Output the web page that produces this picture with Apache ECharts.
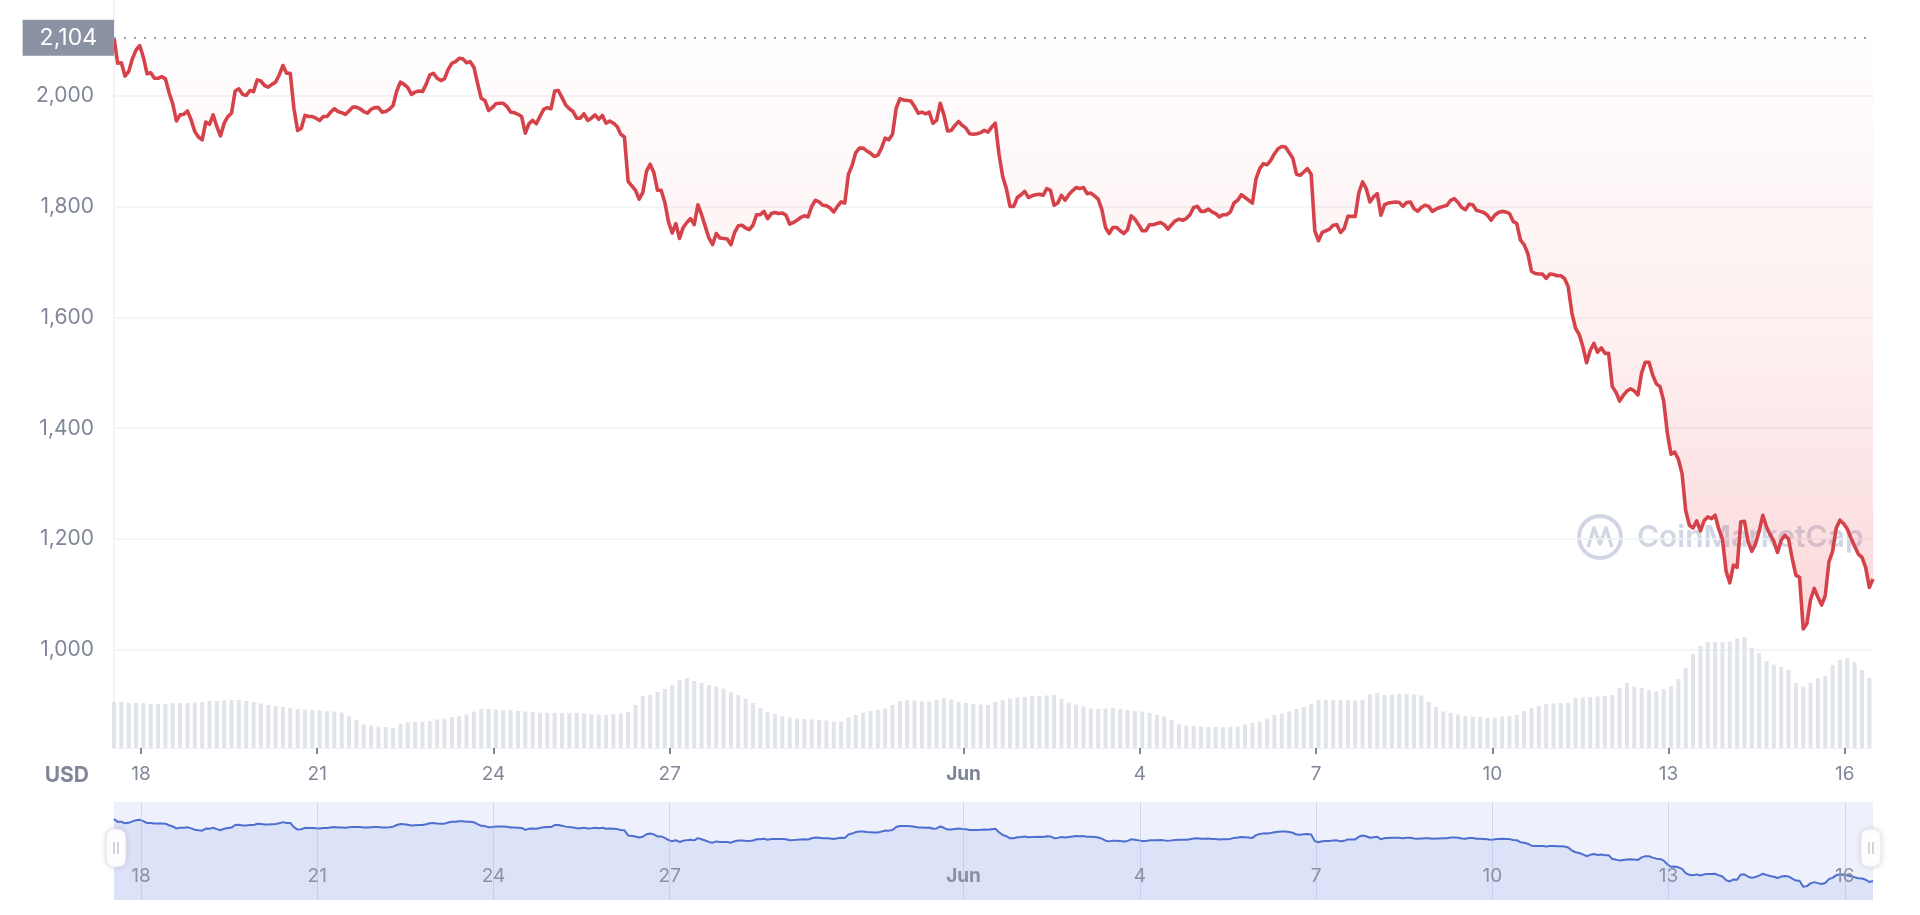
<!DOCTYPE html>
<html><head><meta charset="utf-8">
<script src="https://cdn.jsdelivr.net/npm/echarts@6/dist/echarts.min.js"></script>
<style>html,body{margin:0;padding:0;background:#fff}#chart{width:1920px;height:915px}</style>
</head><body><div id="chart"></div>
<script>
// ---- data (ETH price, USD) ----
const startTime = [2022, 4, 17, 13];   // 17 May 2022 13:00
const priceStepHours = 1.5;
const volumeStepHours = 3;
const price = [
  2104, 2058, 2059, 2035, 2043, 2066, 2082, 2090, 2069, 2039,
  2041, 2031, 2031, 2034, 2030, 2005, 1985, 1954, 1965, 1966,
  1972, 1956, 1935, 1925, 1920, 1952, 1948, 1965, 1944, 1927,
  1950, 1962, 1968, 2008, 2012, 2002, 2000, 2009, 2007, 2028,
  2026, 2018, 2015, 2020, 2024, 2037, 2054, 2040, 2040, 1976,
  1937, 1941, 1964, 1962, 1962, 1959, 1955, 1962, 1962, 1970,
  1976, 1971, 1969, 1966, 1972, 1979, 1979, 1976, 1971, 1968,
  1975, 1978, 1978, 1970, 1971, 1975, 1982, 2008, 2024, 2020,
  2014, 2002, 2006, 2008, 2007, 2020, 2037, 2040, 2031, 2027,
  2030, 2047, 2058, 2061, 2067, 2066, 2059, 2061, 2051, 2022,
  1995, 1991, 1973, 1978, 1985, 1986, 1986, 1980, 1970, 1969,
  1966, 1962, 1932, 1949, 1955, 1949, 1962, 1975, 1978, 1976,
  2008, 2009, 1996, 1983, 1976, 1971, 1959, 1959, 1967, 1955,
  1959, 1965, 1957, 1964, 1950, 1954, 1950, 1944, 1930, 1925,
  1845, 1837, 1829, 1813, 1825, 1863, 1876, 1861, 1829, 1829,
  1807, 1772, 1752, 1769, 1742, 1762, 1771, 1778, 1767, 1803,
  1785, 1764, 1743, 1731, 1751, 1743, 1742, 1741, 1731, 1753,
  1765, 1766, 1761, 1758, 1766, 1785, 1785, 1791, 1778, 1787,
  1789, 1787, 1788, 1784, 1768, 1771, 1775, 1780, 1783, 1781,
  1800, 1811, 1808, 1802, 1801, 1797, 1790, 1800, 1808, 1806,
  1858, 1874, 1897, 1905, 1905, 1900, 1896, 1890, 1892, 1905,
  1923, 1920, 1930, 1977, 1994, 1992, 1991, 1990, 1980, 1968,
  1970, 1967, 1970, 1950, 1955, 1986, 1965, 1936, 1937, 1946,
  1953, 1946, 1941, 1931, 1930, 1931, 1933, 1937, 1934, 1943,
  1950, 1894, 1854, 1832, 1800, 1800, 1816, 1821, 1827, 1816,
  1819, 1821, 1822, 1820, 1832, 1829, 1802, 1806, 1820, 1811,
  1821, 1828, 1834, 1832, 1834, 1823, 1824, 1819, 1813, 1794,
  1762, 1751, 1762, 1762, 1756, 1751, 1758, 1783, 1777, 1767,
  1756, 1756, 1767, 1767, 1769, 1771, 1767, 1759, 1767, 1774,
  1777, 1775, 1778, 1785, 1798, 1800, 1791, 1791, 1795, 1790,
  1787, 1781, 1785, 1785, 1790, 1806, 1811, 1821, 1816, 1811,
  1806, 1850, 1868, 1877, 1875, 1883, 1895, 1904, 1908, 1907,
  1897, 1887, 1858, 1856, 1862, 1868, 1858, 1756, 1738, 1753,
  1756, 1759, 1766, 1767, 1753, 1760, 1782, 1782, 1782, 1825,
  1844, 1832, 1808, 1817, 1823, 1784, 1803, 1806, 1807, 1808,
  1807, 1800, 1807, 1808, 1796, 1791, 1798, 1802, 1800, 1791,
  1795, 1798, 1800, 1802, 1811, 1814, 1807, 1798, 1794, 1804,
  1803, 1793, 1791, 1789, 1784, 1775, 1784, 1789, 1791, 1790,
  1787, 1773, 1769, 1739, 1731, 1715, 1683, 1679, 1678, 1678,
  1670, 1678, 1677, 1675, 1675, 1670, 1655, 1608, 1580, 1569,
  1547, 1518, 1540, 1553, 1537, 1545, 1535, 1535, 1475, 1465,
  1449, 1459, 1467, 1471, 1467, 1460, 1500, 1519, 1519, 1496,
  1480, 1475, 1449, 1391, 1353, 1357, 1344, 1318, 1251, 1225,
  1220, 1233, 1215, 1233, 1240, 1237, 1243, 1218, 1200, 1142,
  1121, 1153, 1149, 1231, 1232, 1195, 1178, 1191, 1214, 1243,
  1222, 1208, 1196, 1176, 1198, 1207, 1200, 1165, 1135, 1131,
  1038, 1048, 1091, 1111, 1095, 1081, 1098, 1159, 1178, 1220,
  1234, 1228, 1218, 1202, 1187, 1173, 1167, 1149, 1113, 1128
];
// relative trading volume (bar heights)
const volume = [
  46, 46, 45, 45, 45, 44, 44, 44, 45, 45,
  45, 45.5, 46, 47, 47, 47.5, 48, 48, 47, 46,
  44.5, 43, 42, 41, 40, 39, 38.5, 38, 37.5, 37,
  36.5, 35.5, 32, 28, 23.5, 22.5, 21.5, 21, 20, 24,
  25.5, 26, 26.5, 27, 28.5, 29.5, 31, 32, 33.5, 36.5,
  39, 39, 38.5, 38, 38, 37, 36.5, 36, 35.5, 35,
  35, 35, 35, 35, 34.5, 34, 33.5, 33, 34, 34.5,
  36, 43, 52, 53, 56, 59, 63, 68, 70, 67,
  65, 63, 61.5, 59.5, 56, 53, 49.5, 45, 40, 36,
  34, 32, 30.5, 29.5, 29, 28.5, 28, 27.5, 26.5, 26.5,
  30.5, 33, 35.5, 37, 38, 39.5, 43, 47, 48, 47.5,
  46.5, 46.5, 48, 49.5, 48.5, 46, 45, 44, 43.5, 43,
  46, 48, 49.5, 50.5, 51, 52, 52, 52.5, 53, 49,
  45.5, 43.5, 41.5, 39.5, 39, 39.5, 40, 39, 38, 37,
  36.5, 35, 33, 31.5, 28, 24, 22.5, 22, 21.5, 21,
  21, 21, 21, 21.5, 23.5, 25, 26.5, 29.5, 33, 34.5,
  36.5, 39, 41, 44, 48, 48, 48, 48, 48, 47.5,
  48, 54, 55, 53, 53.5, 54, 54, 53.5, 52.5, 46,
  41, 36.5, 35, 33.5, 32, 31.5, 31, 30, 30.5, 31.5,
  32, 33, 37, 40, 42, 44, 44.5, 45, 45, 50,
  50.5, 51, 51.5, 52, 53, 60, 65, 61.5, 60, 58,
  56.5, 59, 62, 69, 80, 94, 102, 106, 106, 106,
  106.5, 109.5, 111, 100, 95, 87, 83.5, 81, 78, 65,
  61.5, 65, 70, 72, 83, 88, 90, 85.5, 78, 70
];
const tickDates = [
  [2022, 4, 18], [2022, 4, 21], [2022, 4, 24], [2022, 4, 27], [2022, 5, 1],
  [2022, 5, 4], [2022, 5, 7], [2022, 5, 10], [2022, 5, 13], [2022, 5, 16]
];
const monthNames = ['Jan','Feb','Mar','Apr','May','Jun','Jul','Aug','Sep','Oct','Nov','Dec'];
const priceTicks = { min: 1000, max: 2104, interval: 200 };
const currencyLabel = 'USD';
const watermark = 'CoinMarketCap';

// ---- build ----
const HOUR = 3600 * 1000;
const t0 = new Date(startTime[0], startTime[1], startTime[2], startTime[3]).getTime();
const priceData = price.map((v, i) => [t0 + i * priceStepHours * HOUR, v]);
const volData = volume.map((v, i) => [t0 + i * volumeStepHours * HOUR, v]);
const tMax = priceData[priceData.length - 1][0];
const tickValues = tickDates.map(d => new Date(d[0], d[1], d[2]).getTime());

const FONT = 'Inter';
const GREY = '#808799';
function dateLabel(v) {
  const d = new Date(v);
  return d.getDate() === 1 ? '{b|' + monthNames[d.getMonth()] + '}' : String(d.getDate());
}
const L = 114, R = 47;

const chart = echarts.init(document.getElementById('chart'), null, { renderer: 'canvas' });
chart.setOption({
  animation: false,
  backgroundColor: '#ffffff',
  grid: [
    { left: L, right: R, top: 37.8, bottom: 265 },
    { left: L, right: R, top: 0, bottom: 167 },
    { left: L, right: R, top: 802, bottom: 15, show: true, backgroundColor: '#eef1fc', borderWidth: 0 }
  ],
  xAxis: [
    { type: 'value', gridIndex: 0, min: t0, max: tMax, show: false, splitLine: { show: false } },
    { type: 'value', gridIndex: 1, min: t0, max: tMax,
      axisLine: { show: true, lineStyle: { color: '#eceff3', width: 1 } },
      axisTick: { show: true, customValues: tickValues, length: 6, lineStyle: { color: '#7e8698', width: 2 } },
      splitLine: { show: false },
      axisLabel: { customValues: tickValues, formatter: dateLabel, fontSize: 19, color: GREY, fontFamily: FONT, margin: 17,
        rich: { b: { fontWeight: 'bold', fontSize: 19, color: '#7b8396', fontFamily: FONT } } }
    },
    { type: 'value', gridIndex: 2, min: t0, max: tMax, z: 10,
      axisLine: { show: false }, axisTick: { show: false }, splitLine: { show: false },
      axisLabel: { customValues: tickValues, inside: true, formatter: dateLabel, fontSize: 19, color: '#8a91a4', fontFamily: FONT, margin: 14,
        rich: { b: { fontWeight: 'bold', fontSize: 19, color: '#8a91a4', fontFamily: FONT } } }
    }
  ],
  yAxis: [
    { type: 'value', gridIndex: 0, min: priceTicks.min, max: priceTicks.max, interval: priceTicks.interval,
      axisLine: { show: false }, axisTick: { show: false },
      splitLine: { show: true, showMaxLine: false, lineStyle: { color: '#eff2f5', width: 1.5 } },
      axisLabel: { showMaxLabel: false, fontSize: 21, color: GREY, fontFamily: FONT, margin: 20,
        formatter: v => v.toLocaleString('en-US') }
    },
    { type: 'value', gridIndex: 1, min: 0, max: 748, show: true,
      axisLine: { show: true, lineStyle: { color: '#eceff3', width: 1.5 } },
      axisTick: { show: false }, axisLabel: { show: false }, splitLine: { show: false } },
    { type: 'value', gridIndex: 2, min: 830, max: 2370, show: false }
  ],
  series: [
    { type: 'bar', name: 'Volume', xAxisIndex: 1, yAxisIndex: 1, data: volData, barWidth: 4,
      itemStyle: { color: '#e1e4e9' }, silent: true, z: 1 },
    { type: 'line', name: 'Price', xAxisIndex: 0, yAxisIndex: 0, data: priceData, symbol: 'none',
      lineStyle: { color: '#d6424a', width: 3.6, join: 'round' },
      areaStyle: { origin: 'end', color: new echarts.graphic.LinearGradient(0, 0, 0, 1, [
        { offset: 0, color: 'rgba(234,57,67,0.01)' },
        { offset: 0.5, color: 'rgba(234,57,67,0.11)' },
        { offset: 1, color: 'rgba(234,57,67,0.28)' }
      ]) },
      z: 3,
      markLine: {
        silent: true, symbol: ['none', 'none'],
        lineStyle: { type: [2, 8], color: '#9aa1b0', width: 2 },
        label: { position: 'start', distance: 0, formatter: p => Number(p.value).toLocaleString('en-US'),
          color: '#ffffff', backgroundColor: '#8b92a3', padding: [6, 17, 6, 17], fontSize: 23, lineHeight: 24, fontFamily: FONT },
        data: [{ type: 'max' }]
      }
    },
    { type: 'line', name: 'Navigator', xAxisIndex: 2, yAxisIndex: 2, data: priceData, symbol: 'none', silent: true,
      lineStyle: { color: '#4e6fcf', width: 2 },
      areaStyle: { origin: 'start', color: '#dce2f8', opacity: 1 },
      markLine: { silent: true, symbol: ['none', 'none'], label: { show: false },
        lineStyle: { type: 'solid', color: 'rgba(170,182,220,0.45)', width: 1 },
        data: tickValues.map(t => ({ xAxis: t })) }
    }
  ],
  graphic: [
    { type: 'text', x: 89, y: 776, z: 10,
      style: { text: currencyLabel, font: 'bold 21px Inter', fill: GREY, align: 'right', verticalAlign: 'middle' } },
    { type: 'circle', shape: { cx: 1600, cy: 537, r: 21 }, z: 0,
      style: { fill: 'none', stroke: 'rgba(178,187,210,0.6)', lineWidth: 4 } },
    { type: 'polyline', shape: { points: [[1588, 547], [1594, 528], [1600, 544], [1606, 528], [1612, 547]] }, z: 0,
      style: { fill: 'none', stroke: 'rgba(178,187,210,0.6)', lineWidth: 3.5, lineJoin: 'round' } },
    { type: 'text', x: 1637, y: 538, z: 0,
      style: { text: watermark, font: '600 30px Inter', fill: 'rgba(178,187,210,0.6)', verticalAlign: 'middle' } },
    { type: 'rect', z: 100, shape: { x: 106, y: 829, width: 20, height: 38, r: 8 },
      style: { fill: '#ffffff', stroke: '#e2e5ec', lineWidth: 1, shadowBlur: 6, shadowColor: 'rgba(0,0,0,0.12)' } },
    { type: 'line', z: 101, shape: { x1: 114, y1: 842, x2: 114, y2: 854 }, style: { stroke: '#b4b9c6', lineWidth: 1.2 } },
    { type: 'line', z: 101, shape: { x1: 118, y1: 842, x2: 118, y2: 854 }, style: { stroke: '#b4b9c6', lineWidth: 1.2 } },
    { type: 'rect', z: 100, shape: { x: 1861, y: 829, width: 20, height: 38, r: 8 },
      style: { fill: '#ffffff', stroke: '#e2e5ec', lineWidth: 1, shadowBlur: 6, shadowColor: 'rgba(0,0,0,0.12)' } },
    { type: 'line', z: 101, shape: { x1: 1869, y1: 842, x2: 1869, y2: 854 }, style: { stroke: '#b4b9c6', lineWidth: 1.2 } },
    { type: 'line', z: 101, shape: { x1: 1873, y1: 842, x2: 1873, y2: 854 }, style: { stroke: '#b4b9c6', lineWidth: 1.2 } }
  ]
});
</script>
</body></html>
